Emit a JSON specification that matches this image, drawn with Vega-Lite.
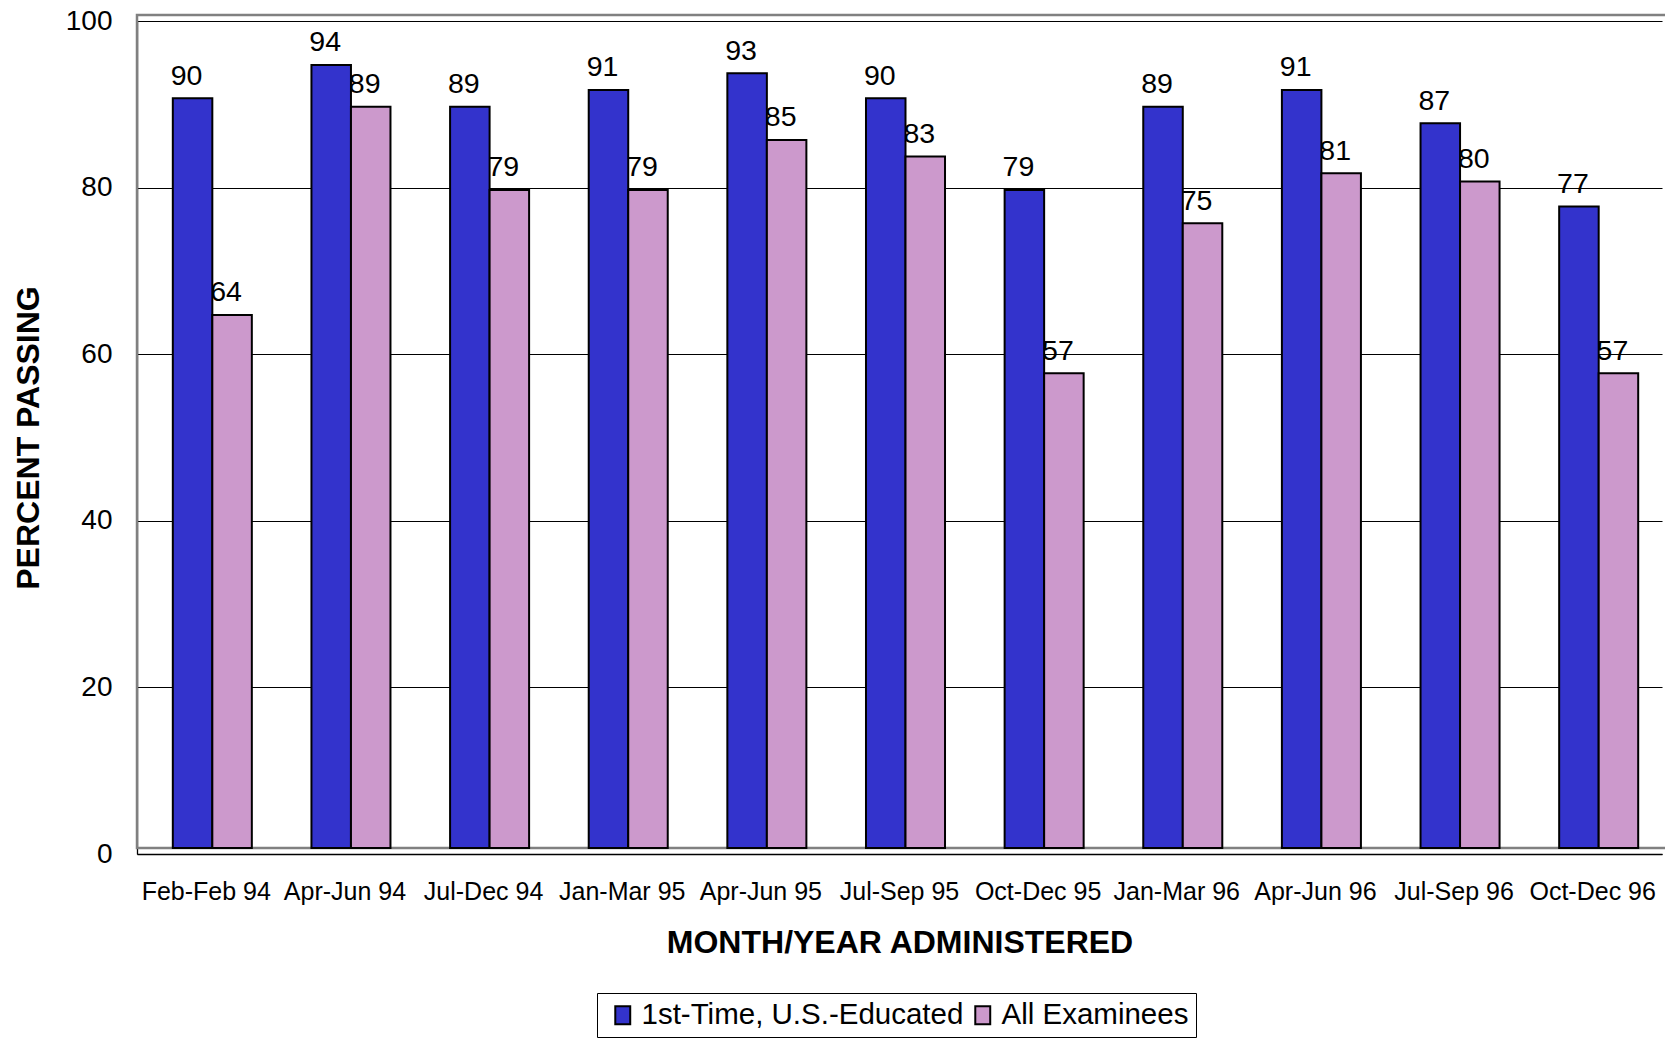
{
  "$schema": "https://vega.github.io/schema/vega-lite/v6.json",
  "autosize": {"type": "none"},
  "padding": {"left": 137, "top": 21, "right": 3, "bottom": 184},
  "width": 1525,
  "height": 833,
  "background": "white",
  "config": {"view": {"stroke": null}, "font": "Liberation Sans"},
  "data": {
    "values": [
      {"period": "Feb-Feb 94", "series": "1st-Time, U.S.-Educated", "value": 90, "label": "90"},
      {"period": "Feb-Feb 94", "series": "All Examinees", "value": 64, "label": "64"},
      {"period": "Apr-Jun 94", "series": "1st-Time, U.S.-Educated", "value": 94, "label": "94"},
      {"period": "Apr-Jun 94", "series": "All Examinees", "value": 89, "label": "89"},
      {"period": "Jul-Dec 94", "series": "1st-Time, U.S.-Educated", "value": 89, "label": "89"},
      {"period": "Jul-Dec 94", "series": "All Examinees", "value": 79, "label": "79"},
      {"period": "Jan-Mar 95", "series": "1st-Time, U.S.-Educated", "value": 91, "label": "91"},
      {"period": "Jan-Mar 95", "series": "All Examinees", "value": 79, "label": "79"},
      {"period": "Apr-Jun 95", "series": "1st-Time, U.S.-Educated", "value": 93, "label": "93"},
      {"period": "Apr-Jun 95", "series": "All Examinees", "value": 85, "label": "85"},
      {"period": "Jul-Sep 95", "series": "1st-Time, U.S.-Educated", "value": 90, "label": "90"},
      {"period": "Jul-Sep 95", "series": "All Examinees", "value": 83, "label": "83"},
      {"period": "Oct-Dec 95", "series": "1st-Time, U.S.-Educated", "value": 79, "label": "79"},
      {"period": "Oct-Dec 95", "series": "All Examinees", "value": 57, "label": "57"},
      {"period": "Jan-Mar 96", "series": "1st-Time, U.S.-Educated", "value": 89, "label": "89"},
      {"period": "Jan-Mar 96", "series": "All Examinees", "value": 75, "label": "75"},
      {"period": "Apr-Jun 96", "series": "1st-Time, U.S.-Educated", "value": 91, "label": "91"},
      {"period": "Apr-Jun 96", "series": "All Examinees", "value": 81, "label": "81"},
      {"period": "Jul-Sep 96", "series": "1st-Time, U.S.-Educated", "value": 87, "label": "87"},
      {"period": "Jul-Sep 96", "series": "All Examinees", "value": 80, "label": "80"},
      {"period": "Oct-Dec 96", "series": "1st-Time, U.S.-Educated", "value": 77, "label": "77"},
      {"period": "Oct-Dec 96", "series": "All Examinees", "value": 57, "label": "57"}
    ]
  },
  "resolve": {"scale": {"x": "independent", "xOffset": "independent"}, "axis": {"x": "independent"}},
  "layer": [
    {
      "data": {"values": [{"lo": 0, "hi": 100}]},
      "mark": {"type": "rect", "fill": "transparent", "stroke": "#808080", "strokeWidth": 2.5, "xOffset": 6, "x2Offset": 6, "yOffset": -6, "y2Offset": -6},
      "encoding": {
        "y": {"field": "lo", "type": "quantitative", "scale": {"domain": [0, 100], "nice": false}},
        "y2": {"field": "hi"}
      }
    },
    {
      "mark": {"type": "text", "dy": -19.5, "baseline": "alphabetic", "fontSize": 28.5, "color": "black"},
      "encoding": {
        "x": {
          "field": "period", "type": "nominal", "sort": null,
          "scale": {"paddingInner": 0.43, "paddingOuter": 0.215},
          "axis": {
            "title": "MONTH/YEAR ADMINISTERED", "labelAngle": 0, "labelAlign": "center", "labelFontSize": 25, "labelBaseline": "alphabetic",
            "labelPadding": 45, "ticks": false, "domainColor": "black", "domainWidth": 1.3, "labelColor": "black",
            "titleFontSize": 32, "titleFontWeight": "bold", "titleColor": "black", "titleBaseline": "alphabetic", "titleY": 98
          }
        },
        "xOffset": {"field": "series", "type": "nominal", "sort": ["1st-Time, U.S.-Educated", "All Examinees"], "scale": {"paddingInner": 0}},
        "y": {"field": "value", "type": "quantitative"},
        "text": {"field": "label"}
      }
    },
    {
      "mark": {"type": "bar", "stroke": "black", "strokeWidth": 2, "yOffset": -6, "y2Offset": -6},
      "encoding": {
        "x": {
          "field": "period", "type": "nominal", "sort": null,
          "scale": {"paddingInner": 0.43, "paddingOuter": 0.215, "align": 0.6007},
          "axis": null
        },
        "xOffset": {"field": "series", "type": "nominal", "sort": ["1st-Time, U.S.-Educated", "All Examinees"], "scale": {"paddingInner": 0}},
        "y": {
          "field": "value", "type": "quantitative",
          "axis": {
            "title": "PERCENT PASSING", "values": [0, 20, 40, 60, 80, 100], "grid": true, "gridColor": "black", "gridOpacity": 1, "gridWidth": 1,
            "ticks": false, "labelPadding": 25, "labelFontSize": 28, "labelColor": "black", "domainColor": "black", "domainWidth": 1.3,
            "titleFontSize": 32, "titleFontWeight": "bold", "titleColor": "black", "titleX": -99, "titleY": 416.5, "titleBaseline": "alphabetic"
          }
        },
        "color": {
          "field": "series", "type": "nominal",
          "scale": {"domain": ["1st-Time, U.S.-Educated", "All Examinees"], "range": ["#3333CC", "#CC99CC"]},
          "legend": {
            "orient": "none", "legendX": 460, "legendY": 972, "direction": "horizontal", "title": null,
            "strokeColor": "black", "fillColor": "white", "padding": 7, "labelFontSize": 29.5, "labelColor": "black", "labelLimit": 600,
            "symbolType": "M-0.83,-1H0.83V1H-0.83Z", "symbolSize": 324, "symbolStrokeColor": "black", "symbolStrokeWidth": 2,
            "symbolOffset": 4, "labelOffset": 4, "columnPadding": 0
          }
        }
      }
    }
  ]
}
